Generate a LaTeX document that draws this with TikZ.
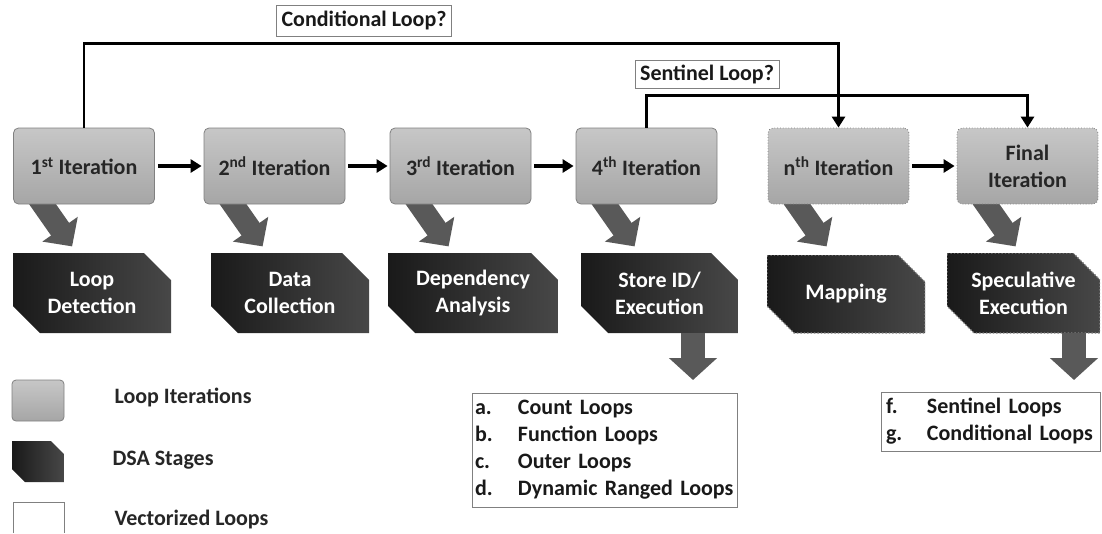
\documentclass[tikz,border=0pt]{standalone}
\usepackage{fontspec}
\setmainfont{Carlito}
\usetikzlibrary{arrows.meta,calc,backgrounds}

\newcommand\diafont{\bfseries\fontsize{22}{27}\selectfont}
\newcommand\chamfer[1]{(path picture bounding box.north west) -- ($(path picture bounding box.north east)+(-#1,0pt)$) -- ($(path picture bounding box.north east)+(0pt,-#1)$) -- (path picture bounding box.south east) -- ($(path picture bounding box.south west)+(#1,0pt)$) -- ($(path picture bounding box.south west)+(0pt,#1)$) -- cycle}

\begin{document}
\begin{tikzpicture}[x=1pt, y=-1pt,
    iter/.style = {draw=black!50, line width=0.8pt, rounded corners=5pt, top color=black!22, middle color=black!11, bottom color=black!35, minimum width=141pt, minimum height=76pt, inner sep=0pt, align=center, text=black!85, font=\diafont},
    iterdot/.style = {iter, dotted},
    stage/.style = {minimum width=158pt, minimum height=80pt, inner sep=0pt, align=center, text=white, font=\diafont, path picture={\shade[left color=black!90, right color=black!72] \chamfer{#1};}},
    stage/.default = 27pt,
    stagedot/.style = {stage, path picture={\shade[left color=black!90, right color=black!72] \chamfer{27pt}; \draw[black!50, dotted, line width=1.4pt] \chamfer{27pt};}},
    tag/.style = {draw=black!50, line width=0.6pt, fill=white, inner xsep=5pt, inner ysep=0pt, font=\diafont, text=black!90},
    listbox/.style = {draw=black!50, line width=0.6pt, align=left, inner ysep=0pt, font=\diafont, text=black!90},
    legend/.style = {anchor=west, font=\diafont, text=black!85},
    flow/.style = {line width=3.2pt, -{Triangle[length=11pt,width=13pt]}},
    slant/.style = {line width=22pt, draw=black!65, -{Triangle[length=21pt,width=42pt]}},
    drop/.style = {line width=24pt, draw=black!65, -{Triangle[length=22pt,width=47pt]}}]

    \useasboundingbox (0,0) rectangle (1102,533);

    \node[iter] (1) at (84,166) {1\textsuperscript{st} Iteration};
    \node[iter] (2) at (274.5,166) {2\textsuperscript{nd} Iteration};
    \node[iter] (3) at (460.5,166) {3\textsuperscript{rd} Iteration};
    \node[iter] (4) at (646.5,166) {4\textsuperscript{th} Iteration};
    \node[iterdot] (n) at (838.5,166) {n\textsuperscript{th} Iteration};
    \node[iterdot] (f) at (1027.5,166) {Final\\Iteration};

    \node[stage] (s1) at (92,293) {Loop\\Detection};
    \node[stage] (s2) at (290,293) {Data\\Collection};
    \node[stage, minimum width=170pt] (s3) at (473,293) {Dependency\\Analysis};
    \node[stage, minimum width=157pt] (s4) at (659.5,293) {Store ID/\\Execution};
    \node[stagedot, minimum height=78pt] (s5) at (846,294) {Mapping};
    \node[stagedot, minimum width=153pt] (s6) at (1023.5,293) {Speculative\\Execution};

    \node[tag, minimum height=31pt] (c) at (364,20.5) {Conditional Loop?};
    \node[tag, minimum height=28pt] (s) at (707,74) {Sentinel Loop?};

    \node[listbox, inner xsep=3pt, text width=259pt, minimum height=114pt] (la) at (604.5,450) {\makebox[43pt][l]{a.}Count Loops\\\makebox[43pt][l]{b.}Function Loops\\\makebox[43pt][l]{c.}Outer Loops\\\makebox[43pt][l]{d.}Dynamic Ranged Loops};
    \node[listbox, inner xsep=5pt, text width=209pt, minimum height=59pt] (lf) at (990.5,421.5) {\makebox[41pt][l]{f.}Sentinel Loops\\\makebox[41pt][l]{g.}Conditional Loops};

    \coordinate (ta) at (693,380);
    \coordinate (tf) at (1074,380);

    \node[iter, rounded corners=4pt, minimum width=52pt, minimum height=41pt] (k1) at (38,400.5) {};
    \node[stage=13pt, minimum width=52pt, minimum height=41pt] (k2) at (38,461.5) {};
    \node[minimum width=51pt, minimum height=31pt, inner sep=0pt] (k3) at (38.5,517.5) {};
    \draw[black!50, line width=0.6pt] (k3.south west) |- (k3.north east) -- (k3.south east);
    \node[legend] (t1) at (111,397) {Loop Iterations};
    \node[legend] (t2) at (109,460) {DSA Stages};
    \node[legend] (t3) at (111,520) {Vectorized Loops};

    \draw[flow, shorten <=3pt, shorten >=2pt] (1.east) -- (2.west);
    \draw[flow, shorten <=3pt, shorten >=2pt] (2.east) -- (3.west);
    \draw[flow, shorten <=3pt, shorten >=2pt] (3.east) -- (4.west);
    \draw[flow, shorten <=3pt, shorten >=2pt] (n.east) -- (f.west);
    \draw[flow, line width=2.8pt] (1.north) -- ++(0,-84) -| (n.north);
    \draw[flow, line width=2.8pt] (4.north) -- ++(0,-32) -| (f.north);

    \begin{scope}[on background layer]
        \foreach \i in {1,2,3,4,n,f}
            \draw[slant] ($(\i.south west)+(24pt,8pt)$) -- ($(\i.south west)+(59pt,-42pt)$);
    \end{scope}
    \draw[drop] (s4.south -| ta) -- (ta);
    \draw[drop] (s6.south -| tf) -- (tf);
\end{tikzpicture}
\end{document}
